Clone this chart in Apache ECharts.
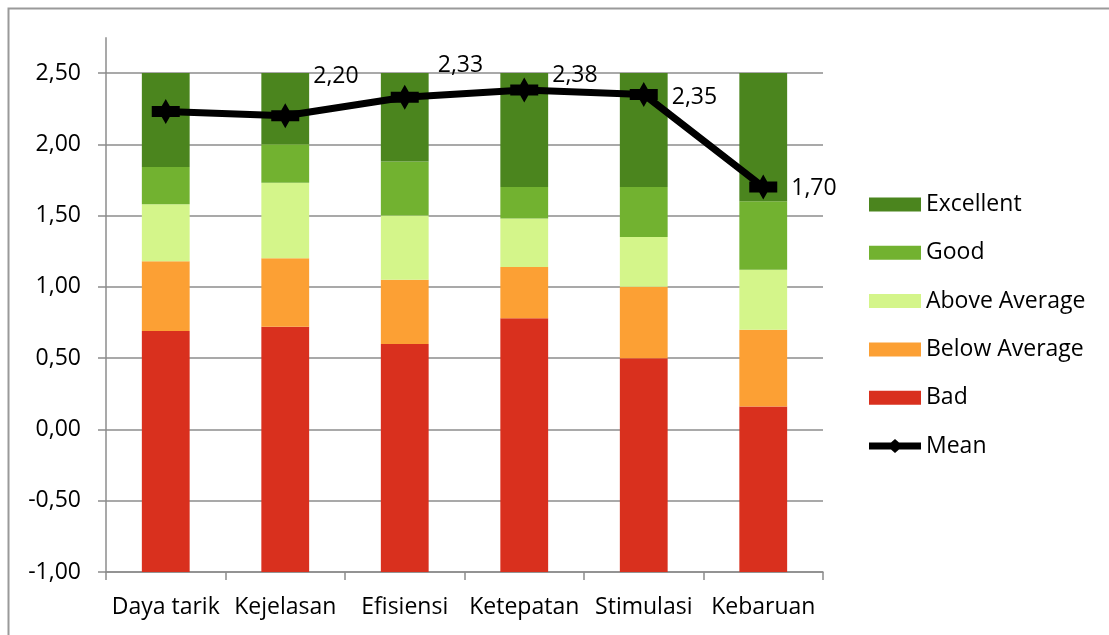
<!DOCTYPE html>
<html>
<head>
<meta charset="utf-8">
<title>UEQ Benchmark</title>
<script src="https://cdn.jsdelivr.net/npm/echarts@6/dist/echarts.min.js"></script>
<style>
  html, body { margin: 0; padding: 0; background: #ffffff; }
  #chart { width: 1109px; height: 635px; }
</style>
</head>
<body>
<div id="chart"></div>
<script>
// Scales of the questionnaire
const categories = ['Daya tarik', 'Kejelasan', 'Efisiensi', 'Ketepatan', 'Stimulasi', 'Kebaruan'];

// Benchmark band borders per scale (lower edge of the chart is -1,00)
const scaleFloor = [-1.00, -1.00, -1.00, -1.00, -1.00, -1.00];
const badTop       = [0.69, 0.72, 0.60, 0.78, 0.50, 0.16];
const belowAvgTop  = [1.18, 1.20, 1.05, 1.14, 1.00, 0.70];
const aboveAvgTop  = [1.58, 1.73, 1.50, 1.48, 1.35, 1.12];
const goodTop      = [1.84, 2.00, 1.88, 1.70, 1.70, 1.60];
const excellentTop = [2.50, 2.50, 2.50, 2.50, 2.50, 2.50];

// Mean score per scale
const meanValues = [2.23, 2.20, 2.33, 2.38, 2.35, 1.70];
// which mean values carry a label
const meanLabelShown = [false, true, true, true, true, true];

// Value axis ticks
const yTicks = [-1.00, -0.50, 0.00, 0.50, 1.00, 1.50, 2.00, 2.50];

// label nudges for the mean labels (pixels)
const meanLabelShift = [[0, 0], [0, -39], [5, -32], [0, -15], [0, 3], [0, 1]];

const FONT = '"Open Sans", "Noto Sans", sans-serif';
const AXIS_GRAY = '#8c8c8c';

const bandColors = {
  'Bad': '#d9301e',
  'Below Average': '#fca034',
  'Above Average': '#d4f58a',
  'Good': '#72b230',
  'Excellent': '#4b851e'
};

function fmt(v) { return v.toFixed(2).replace('.', ','); }

function bandRows(lows, highs) {
  return categories.map((c, i) => [i, lows[i], highs[i]]);
}

function renderBand(params, api) {
  const idx = api.value(0);
  const lo = api.coord([idx, api.value(1)]);
  const hi = api.coord([idx, api.value(2)]);
  const w = api.size([1, 0])[0] * 0.4;
  return {
    type: 'rect',
    shape: { x: lo[0] - w / 2, y: hi[1], width: w, height: lo[1] - hi[1] },
    style: api.style()
  };
}

function bandSeries(name, lows, highs) {
  return {
    name: name,
    type: 'custom',
    renderItem: renderBand,
    itemStyle: { color: bandColors[name] },
    encode: { x: 0, y: [1, 2] },
    data: bandRows(lows, highs)
  };
}

const chart = echarts.init(document.getElementById('chart'), null, { renderer: 'canvas' });

const yMin = yTicks[0];
const yMax = yTicks[yTicks.length - 1];

const meanMarker = 'path://M0,7 L10,7 L14,0 L18,7 L28,7 L28,18 L18,18 L14,25 L10,18 L0,18 Z';
const meanLegendIcon = 'path://M0,3.5 L22,3.5 L26,0 L30,3.5 L52,3.5 L52,10.5 L30,10.5 L26,14 L22,10.5 L0,10.5 Z';

chart.setOption({
  animation: false,
  textStyle: { fontFamily: FONT },
  grid: { left: 106, right: 286, top: 73, bottom: 63, containLabel: false },
  legend: {
    orient: 'vertical',
    left: 864,
    top: 188,
    itemWidth: 52,
    itemHeight: 14,
    itemGap: 25.3,
    icon: 'rect',
    textStyle: { fontFamily: FONT, fontSize: 23, color: '#000' },
    data: [
      { name: 'Excellent' },
      { name: 'Good' },
      { name: 'Above Average' },
      { name: 'Below Average' },
      { name: 'Bad' },
      { name: 'Mean', icon: meanLegendIcon, itemStyle: { color: '#000' } }
    ]
  },
  xAxis: {
    type: 'category',
    data: categories,
    boundaryGap: true,
    axisLine: { show: true, onZero: false, lineStyle: { color: AXIS_GRAY, width: 1.5 } },
    axisTick: { show: true, length: 8, alignWithLabel: false, lineStyle: { color: AXIS_GRAY, width: 1.5 } },
    axisLabel: { fontFamily: FONT, fontSize: 23, color: '#000', margin: 24, interval: 0 },
    splitLine: { show: false }
  },
  yAxis: {
    type: 'value',
    min: yMin,
    max: yMax,
    interval: 0.5,
    axisLine: { show: true, lineStyle: { color: AXIS_GRAY, width: 1.5 } },
    axisTick: { show: true, length: 8, inside: false, lineStyle: { color: AXIS_GRAY, width: 1.5 } },
    axisLabel: { fontFamily: FONT, fontSize: 23, color: '#000', margin: 25, formatter: v => fmt(v) },
    splitLine: { show: true, lineStyle: { color: AXIS_GRAY, width: 1.5 } }
  },
  series: [
    bandSeries('Bad', scaleFloor, badTop),
    bandSeries('Below Average', badTop, belowAvgTop),
    bandSeries('Above Average', belowAvgTop, aboveAvgTop),
    bandSeries('Good', aboveAvgTop, goodTop),
    bandSeries('Excellent', goodTop, excellentTop),
    {
      name: 'Mean',
      type: 'line',
      z: 5,
      symbol: meanMarker,
      symbolSize: [28, 25],
      showAllSymbol: true,
      lineStyle: { color: '#000', width: 7 },
      itemStyle: { color: '#000' },
      data: meanValues.map((v, i) => ({
        value: v,
        label: {
          show: meanLabelShown[i],
          position: 'right',
          distance: 14,
          offset: meanLabelShift[i],
          formatter: p => fmt(p.value),
          fontFamily: FONT,
          fontSize: 23,
          color: '#000'
        }
      }))
    }
  ]
});

// Frame around the chart and the value-axis line running above the top gridline
const gridRect = chart.getModel().getComponent('grid').coordinateSystem.getRect();
const yTop = chart.convertToPixel({ yAxisIndex: 0 }, yMax);
const yExt = chart.convertToPixel({ yAxisIndex: 0 }, yMax + 0.25);

chart.setOption({
  graphic: [
    {
      type: 'rect',
      silent: true,
      shape: { x: 8.5, y: 8.5, width: 1200, height: 700 },
      style: { fill: 'none', stroke: '#9a9a9a', lineWidth: 2 }
    },
    {
      type: 'line',
      silent: true,
      shape: { x1: gridRect.x, y1: yExt, x2: gridRect.x, y2: yTop },
      style: { stroke: AXIS_GRAY, lineWidth: 1.5 }
    }
  ]
});
</script>
</body>
</html>
